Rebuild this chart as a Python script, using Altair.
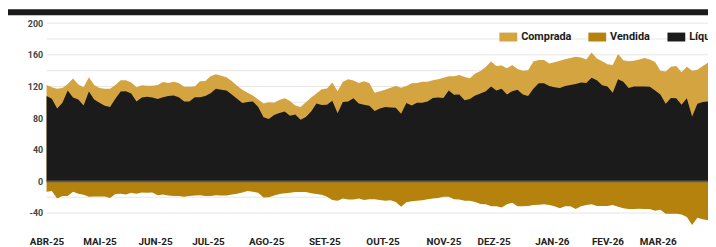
import altair as alt
import pandas as pd

# trading-day index of each sample (every 2nd session, 1 Apr 2025 = 0)
dias = list(range(0, 251, 2))

comprada = [
    122, 119, 117, 118, 123, 130, 122.5, 119, 131.5, 122, 118, 117, 117, 122, 128, 128, 125, 119, 121.5, 121, 121,
    122, 125.5, 124.5, 126, 124.5, 119.5, 119.5, 120, 126.5, 127, 133, 135.5, 133.5, 131.5, 127, 121, 116, 112, 108.5, 103.5, 98.5,
    100, 99.5, 103, 105, 101.5, 96, 94, 100, 106, 111, 116.5, 117.5, 125, 114, 126, 129, 127.5, 124.5, 126.5, 124.5, 112,
    114, 116, 118.5, 120.5, 118.5, 120.5, 124, 124.5, 126, 126, 128, 129, 131, 133, 133, 134.5, 132, 130.5, 136.5, 139.5, 144.5,
    151.5, 146, 146.5, 143, 147, 142, 140, 140.5, 151.5, 153.5, 153.5, 149, 150.5, 152.5, 154.5, 156, 157.5, 156.5, 154, 163, 155.5,
    152, 148, 147, 161, 153, 152, 152.5, 154, 156, 154, 151, 140, 139, 145, 146, 138, 145, 140, 141, 146, 150,
]

liquido = [
    108, 104.5, 92, 99.5, 115, 106, 103.5, 96, 113.5, 103.5, 99.5, 95.5, 94, 104.5, 113.5, 114, 111, 101, 106, 107, 106,
    104, 106.5, 108, 108.5, 106.5, 101, 101, 106.5, 106.5, 108, 111.5, 117, 116, 115, 110, 104.5, 99, 100.5, 101, 94, 81,
    79, 84, 86.5, 88.5, 83, 84.5, 78, 81.5, 88.5, 98.5, 96.5, 97, 102, 86, 100.5, 101, 105, 98.5, 97, 95.5, 89,
    92, 94, 93.5, 93, 85.5, 99, 96, 99.5, 99.5, 101, 105.5, 106, 105.5, 115, 109.5, 110, 102.5, 104, 108.5, 111, 114,
    120, 115, 117, 110, 114, 116, 110, 108, 117, 124, 124, 120.5, 119, 118, 120.5, 122, 123, 125, 124.5, 131, 128,
    121.5, 120, 112, 129, 126, 118, 120, 120, 120, 119.5, 115, 110, 98, 105.5, 105, 97, 105, 82, 98, 100.5, 101,
]

vendida = [
    -13, -12, -21.5, -18.5, -18.5, -13, -15.5, -17, -19.5, -19, -19, -19, -21, -16, -15.5, -16.5, -14.5, -15.5, -14, -14.5, -14,
    -17.5, -16.5, -18, -18.5, -18.5, -19.5, -18.5, -18, -17.5, -18.5, -18.5, -17.5, -18, -18, -16.5, -15.5, -14, -12, -13, -14.5, -20.5,
    -20, -18, -16, -15, -14.5, -13.5, -13.5, -13.5, -15, -16, -17, -19.5, -23.5, -24.5, -21.5, -23, -23, -21.5, -23.5, -22.5, -22.5,
    -23.5, -24.5, -24, -26, -32, -26.5, -25, -24.5, -24, -22.5, -21.5, -21, -19.5, -19.5, -22.5, -23, -24.5, -24.5, -26, -28.5, -29,
    -31.5, -31.5, -33, -29, -27, -31.5, -31.5, -31, -30, -29.5, -29, -30, -31.5, -34, -31.5, -31.5, -35, -31.5, -30, -29, -31,
    -31, -31, -30, -32, -34, -35, -35, -34.5, -35, -35, -37, -36, -41, -41, -41, -42, -45, -55, -46, -48, -49,
]

series = ["Comprada", "Vendida", "Líquido"]
cores = ["#D4A440", "#B5820E", "#1B1B1B"]

mes_inicio = [0, 20, 41, 61, 83, 105, 127, 150, 169, 191, 212, 231]
mes_rotulo = ["ABR-25", "MAI-25", "JUN-25", "JUL-25", "AGO-25", "SET-25",
              "OUT-25", "NOV-25", "DEZ-25", "JAN-26", "FEV-26", "MAR-26"]

y_rotulos = [-40, 0, 40, 80, 120, 160, 200]
y_grade = [-40, -20, 20, 40, 60, 80, 100, 120, 140, 160, 180, 200]

rows = []
for d, c, v, l in zip(dias, comprada, vendida, liquido):
    rows.append({"dia": d, "serie": "Comprada", "valor": c})
    rows.append({"dia": d, "serie": "Vendida", "valor": v})
    rows.append({"dia": d, "serie": "Líquido", "valor": l})
df = pd.DataFrame(rows)

label_expr = ""
for i, r in zip(mes_inicio, mes_rotulo):
    label_expr += f"datum.value == {i} ? '{r}' : "
label_expr += "''"

W, H = 669, 208
FONT = "Roboto"

x = alt.X("dia:Q", scale=alt.Scale(domain=[0, 250], nice=False, zero=False),
          axis=alt.Axis(values=mes_inicio, labelExpr=label_expr, grid=False, ticks=False,
                        domain=False, title=None, labelFont=FONT, labelFontSize=10,
                        labelFontWeight="bold", labelColor="#222222", labelPadding=8,
                        labelFlush=False, labelOverlap=False))
y = alt.Y("valor:Q", scale=alt.Scale(domain=[-60, 200], nice=False),
          axis=alt.Axis(values=y_rotulos, labelExpr="'' + datum.value",
                        grid=False, ticks=False, domain=False,
                        title=None, labelFont=FONT, labelFontSize=9, labelFontWeight="bold",
                        labelColor="#444444", labelPadding=4, labelOverlap=False))
color = alt.Color("serie:N", scale=alt.Scale(domain=series, range=cores),
                  legend=alt.Legend(title=None, orient="none", direction="horizontal",
                                    legendX=458, legendY=5,
                                    symbolType="M-1,-0.5H1V0.5H-1Z", symbolSize=324,
                                    symbolStrokeWidth=0, symbolOpacity=1,
                                    labelFont=FONT, labelFontSize=11, labelFontWeight="bold",
                                    labelColor="#1B1B1B", labelOffset=4, columnPadding=17,
                                    padding=0))

base = alt.Chart(df)

grade = alt.Chart(pd.DataFrame({"valor": y_grade})).mark_rule(
    color="#E6E6E6", strokeWidth=1).encode(y=y)


def area(name):
    return base.transform_filter(alt.datum.serie == name).mark_area(
        interpolate="linear", opacity=1).encode(x=x, y=y, y2=alt.datum(0), color=color)


zero = alt.Chart(pd.DataFrame({"valor": [0]})).mark_rule(
    color="#5A5A5A", strokeWidth=2).encode(y=y)

barra = alt.Chart(pd.DataFrame({"v": [0]})).mark_rect(color="#1B1B1B").encode(
    x=alt.value(-39), x2=alt.value(W + 20), y=alt.value(-14), y2=alt.value(-8))

chart = alt.layer(grade, area("Comprada"), area("Líquido"), area("Vendida"), zero, barra).properties(
    width=W, height=H,
    autosize=alt.AutoSizeParams(type="none"),
    padding={"left": 39, "top": 14, "right": 0, "bottom": 17},
).configure_view(stroke="transparent", strokeWidth=0).configure_axis(grid=False)

chart.save("out.html", embed_options={"renderer": "svg", "actions": False})
